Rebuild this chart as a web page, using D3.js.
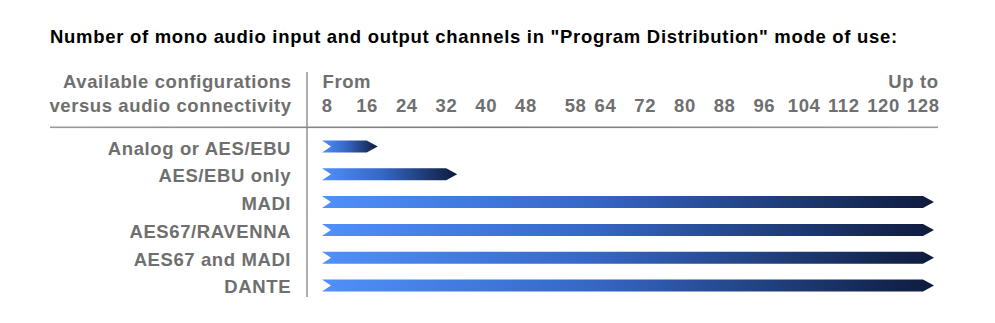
<!DOCTYPE html>
<html>
<head>
<meta charset="utf-8">
<script src="https://cdn.jsdelivr.net/npm/d3@7"></script>
<style>
  html, body { margin: 0; padding: 0; background: #fff; }
  svg { display: block; font-family: "Liberation Sans", Arial, Helvetica, sans-serif; }
</style>
</head>
<body>
<svg id="chart" width="995" height="323"></svg>
<script>
const title = 'Number of mono audio input and output channels in "Program Distribution" mode of use:';
const headerLines = ["Available configurations", "versus audio connectivity"];
const categories = ["Analog or AES/EBU", "AES/EBU only", "MADI", "AES67/RAVENNA", "AES67 and MADI", "DANTE"];
const startValues = [8, 8, 8, 8, 8, 8];
const endValues = [16, 32, 128, 128, 128, 128];
const tickValues = [8, 16, 24, 32, 40, 48, 58, 64, 72, 80, 88, 96, 104, 112, 120, 128];
const fromLabel = "From";
const upToLabel = "Up to";

const svg = d3.select("#chart");
const gray = "#6f6f6f";
const fs = 18.5, ls = 0.6;

const x = d3.scaleLinear().domain([8, 128]).range([327, 923]);
const y = d3.scaleBand().domain(categories).range([132, 300]).paddingInner(0.55).paddingOuter(0.3);

// gradient
const defs = svg.append("defs");
const grad = defs.append("linearGradient").attr("id", "barGrad")
  .attr("x1", "0%").attr("x2", "100%").attr("y1", "0%").attr("y2", "0%");
grad.append("stop").attr("offset", "0%").attr("stop-color", "#5090fa");
grad.append("stop").attr("offset", "45%").attr("stop-color", "#3566c4");
grad.append("stop").attr("offset", "100%").attr("stop-color", "#0e1b3c");

const lineGrad = defs.append("linearGradient").attr("id", "lineGrad")
  .attr("x1", "0%").attr("x2", "100%");
lineGrad.append("stop").attr("offset", "0%").attr("stop-color", "#9a9a9a");
lineGrad.append("stop").attr("offset", "50%").attr("stop-color", "#7a7a7a");
lineGrad.append("stop").attr("offset", "100%").attr("stop-color", "#9a9a9a");

function styled(sel, color) {
  return sel.attr("font-size", fs).attr("font-weight", "bold")
    .attr("letter-spacing", ls).attr("fill", color || gray);
}

// title
styled(svg.append("text").attr("x", 50).attr("y", 42.5), "#000")
  .attr("letter-spacing", 0.7)
  .text(title);

// header left
styled(svg.selectAll("text.hdr").data(headerLines).join("text").attr("class", "hdr")
  .attr("x", 291 + ls).attr("y", (d, i) => 88 + i * 23.5)
  .attr("text-anchor", "end"))
  .text(d => d);

styled(svg.append("text").attr("x", x(8) - 4.5).attr("y", 88)).text(fromLabel);
styled(svg.append("text").attr("x", 938 + ls).attr("y", 88).attr("text-anchor", "end")).text(upToLabel);

// tick labels
styled(svg.selectAll("text.tick").data(tickValues).join("text").attr("class", "tick")
  .attr("x", d => x(d) + ls / 2).attr("y", 111.5).attr("text-anchor", "middle"))
  .text(d => d);

// lines
svg.append("line").attr("x1", 307).attr("x2", 307).attr("y1", 72).attr("y2", 297)
  .attr("stroke", "#777").attr("stroke-width", 1.2);
svg.append("rect").attr("x", 50).attr("y", 126.5).attr("width", 888).attr("height", 1.6)
  .attr("fill", "url(#lineGrad)");

// category labels
styled(svg.selectAll("text.cat").data(categories).join("text").attr("class", "cat")
  .attr("x", 290.5 + ls).attr("y", d => y(d) + y.bandwidth() / 2 + 8)
  .attr("text-anchor", "end"))
  .text(d => d);

// arrows
const h = 12, notch = 9, head = 11;
function arrowPath(s, e, cy) {
  const x0 = x(s) - 5, x1 = x(e);
  const t = cy - h / 2, b = cy + h / 2;
  return `M${x0},${t} L${x1},${t} L${x1 + head},${cy} L${x1},${b} L${x0},${b} L${x0 + notch},${cy} Z`;
}
svg.selectAll("path.bar").data(categories).join("path").attr("class", "bar")
  .attr("d", (d, i) => arrowPath(startValues[i], endValues[i], y(d) + y.bandwidth() / 2))
  .attr("fill", "url(#barGrad)");
</script>
</body>
</html>
